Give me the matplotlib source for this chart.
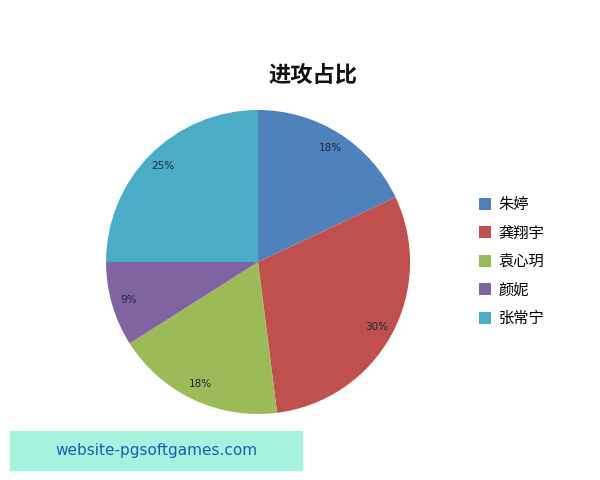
import matplotlib.pyplot as plt
from matplotlib.patches import Rectangle

plt.rcParams['font.family'] = ['Noto Sans CJK SC', 'DejaVu Sans']

players = ['朱婷', '龚翔宇', '袁心玥', '颜妮', '张常宁']
shares = [18, 30, 18, 9, 25]
colors = ['#4F81BD', '#C0504D', '#9BBB59', '#8064A2', '#4BACC6']

fig = plt.figure(figsize=(6, 4.8), dpi=100)
ax = fig.add_axes([0.1767, 0.1375, 0.5067, 0.6333])
wedges, texts, autotexts = ax.pie(
    shares, colors=colors, startangle=90, counterclock=False,
    autopct='%d%%', pctdistance=0.89,
    textprops={'fontsize': 7.5, 'color': '#1a2a3a', 'family': 'DejaVu Sans'})
ax.set_aspect('equal')
ax.set_xlim(-1, 1)
ax.set_ylim(-1, 1)

fig.text(0.522, 0.843, '进攻占比', ha='center', va='center',
         fontsize=16, fontweight='bold', color='#111111')

leg = fig.legend(wedges, players, loc='center left',
                 bbox_to_anchor=(0.775, 0.455), frameon=False,
                 fontsize=11, handlelength=0.8, handleheight=0.8,
                 labelspacing=0.75, handletextpad=0.5)

# watermark banner
fig.patches.append(Rectangle((10 / 600, 1 - 470 / 480), 292 / 600, 39 / 480,
                             transform=fig.transFigure, color='#A5F3DF',
                             zorder=5))
fig.text(156 / 600, 1 - 450 / 480, 'website-pgsoftgames.com', ha='center',
         va='center', fontsize=11, color='#1E5BB5', family='DejaVu Sans',
         zorder=6)

fig.savefig('out.png', dpi=100)
